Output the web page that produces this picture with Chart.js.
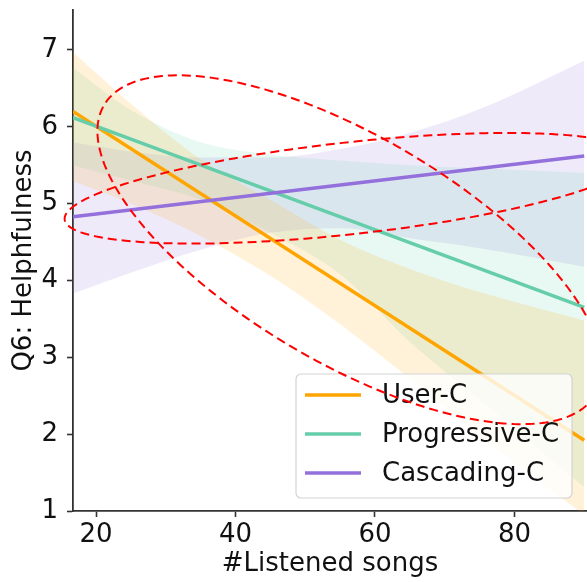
<!DOCTYPE html>
<html>
<head>
<meta charset="utf-8">
<script src="https://cdn.jsdelivr.net/npm/chart.js@4.4.1/dist/chart.umd.min.js"></script>
<style>
  html, body { margin: 0; padding: 0; background: #fff; }
  #wrap { width: 587px; height: 582px; }
</style>
</head>
<body>
<div id="wrap"><canvas id="chart" width="587" height="582"></canvas></div>
<script>
// Values
const xTicks = [20, 40, 60, 80];
const yTicks = [1, 2, 3, 4, 5, 6, 7];
const groups = ['User-C', 'Progressive-C', 'Cascading-C'];

// Regression lines (value at the first and last x)
const lineX = [16.7, 90];
const userLine = [6.20, 1.92];
const progLine = [6.12, 3.65];
const cascLine = [4.83, 5.62];

// Confidence bands, sampled along x
const bandX = [16.7, 25, 35, 45, 55, 65, 75, 90];
const userUpper = [6.97, 6.30, 5.58, 5.05, 4.53, 4.15, 3.85, 3.48];
const userLower = [5.29, 5.00, 4.58, 4.06, 3.43, 2.72, 1.98, 0.95];
const progUpper = [6.77, 6.22, 5.80, 5.64, 5.56, 5.50, 5.46, 5.40];
const progLower = [5.50, 5.30, 5.05, 4.62, 4.08, 3.20, 2.45, 1.31];
const cascUpper = [5.80, 5.68, 5.60, 5.60, 5.71, 5.92, 6.23, 6.86];
const cascLower = [3.83, 4.10, 4.40, 4.62, 4.68, 4.55, 4.42, 4.18];

// Dashed ellipses drawn over the plot: centre, half extents in x / y, correlation
const ellipseCenters = [[56.4, 4.40], [56.4, 5.20]];
const ellipseHalfX = [36.2, 40.9];
const ellipseHalfY = [2.27, 0.72];
const ellipseRho = [-0.68, 0.55];

const colors = ['#FFA500', '#66CDAA', '#9370DB'];
const bandColors = ['rgba(255,165,0,0.15)', 'rgba(102,205,170,0.15)', 'rgba(147,112,219,0.15)'];
const FONT = { family: '"DejaVu Sans", sans-serif', size: 26 };
const TEXT = '#111';
const AXIS = '#333';

const pts = (xs, ys) => xs.map((x, i) => ({ x: x, y: ys[i] }));

const lines = [userLine, progLine, cascLine];
const uppers = [userUpper, progUpper, cascUpper];
const lowers = [userLower, progLower, cascLower];

const datasets = [];
// lines first so they sit on top (later groups drawn above earlier ones)
[2, 1, 0].forEach(g => {
    datasets.push({
        label: groups[g],
        data: pts(lineX, lines[g]),
        borderColor: colors[g],
        borderWidth: 3.5,
        pointRadius: 0,
        fill: false,
        order: 0
    });
});
groups.forEach((name, g) => {
    datasets.push({
        label: name + ' upper',
        data: pts(bandX, uppers[g]),
        borderColor: 'transparent',
        borderWidth: 0,
        pointRadius: 0,
        fill: false,
        cubicInterpolationMode: 'monotone',
        order: 1
    });
    datasets.push({
        label: name + ' lower',
        data: pts(bandX, lowers[g]),
        borderColor: 'transparent',
        backgroundColor: bandColors[g],
        borderWidth: 0,
        pointRadius: 0,
        fill: '-1',
        cubicInterpolationMode: 'monotone',
        order: 1
    });
});

function drawLegend(chart) {
    const ctx = chart.ctx;
    const area = chart.chartArea;
    const w = 276, h = 124;
    const bx = area.right - 15 - w;
    const by = area.bottom - 13 - h;
    ctx.save();
    ctx.beginPath();
    ctx.roundRect(bx, by, w, h, 5);
    ctx.fillStyle = 'rgba(255,255,255,0.8)';
    ctx.fill();
    ctx.strokeStyle = '#d3d3d3';
    ctx.lineWidth = 1.2;
    ctx.stroke();
    ctx.font = FONT.size + 'px ' + FONT.family;
    ctx.textBaseline = 'middle';
    ctx.fillStyle = TEXT;
    groups.forEach((name, g) => {
        const yy = by + 21 + g * 39;
        ctx.beginPath();
        ctx.moveTo(bx + 9, yy);
        ctx.lineTo(bx + 65, yy);
        ctx.strokeStyle = colors[g];
        ctx.lineWidth = 3.5;
        ctx.stroke();
        ctx.fillText(name, bx + 86, yy + 1);
    });
    ctx.restore();
}

function drawEllipse(chart, i) {
    const ctx = chart.ctx;
    const xs = chart.scales.x, ys = chart.scales.y;
    const [cx, cy] = ellipseCenters[i];
    const hx = ellipseHalfX[i], hy = ellipseHalfY[i], r = ellipseRho[i];
    const s = Math.sqrt(1 - r * r);
    ctx.save();
    ctx.beginPath();
    for (let k = 0; k <= 240; k++) {
        const t = (k / 240) * Math.PI * 2;
        const px = xs.getPixelForValue(cx + hx * Math.cos(t));
        const py = ys.getPixelForValue(cy + hy * (r * Math.cos(t) + s * Math.sin(t)));
        if (k === 0) ctx.moveTo(px, py); else ctx.lineTo(px, py);
    }
    ctx.setLineDash([9, 5]);
    ctx.strokeStyle = '#ff0000';
    ctx.lineWidth = 2;
    ctx.stroke();
    ctx.restore();
}

const overlay = {
    id: 'overlay',
    afterDraw(chart) {
        drawLegend(chart);
        ellipseCenters.forEach((c, i) => drawEllipse(chart, i));
    }
};

new Chart(document.getElementById('chart'), {
    type: 'line',
    data: { datasets: datasets },
    plugins: [overlay],
    options: {
        responsive: false,
        animation: false,
        layout: { padding: { top: 10, right: 0, left: 0, bottom: 0 } },
        plugins: { legend: { display: false }, tooltip: { enabled: false } },
        scales: {
            x: {
                type: 'linear',
                min: 16.7,
                max: 90.4,
                afterBuildTicks: s => { s.ticks = xTicks.map(v => ({ value: v })); },
                afterFit: s => { s.height = 71; s.paddingLeft = 0; s.paddingRight = 0; },
                grid: { display: true, drawOnChartArea: false, drawTicks: true, tickLength: 6, tickWidth: 1.6, tickColor: AXIS },
                border: { display: true, color: AXIS, width: 1.8 },
                ticks: { font: FONT, color: TEXT, padding: 3, maxRotation: 0, autoSkip: false },
                title: { display: true, text: '#Listened songs', font: FONT, color: TEXT, padding: { top: 0, bottom: 2 } }
            },
            y: {
                type: 'linear',
                min: 1,
                max: 7.52,
                afterBuildTicks: s => { s.ticks = yTicks.map(v => ({ value: v })); },
                afterFit: s => { s.width = 73; s.paddingTop = 0; s.paddingBottom = 0; },
                grid: { display: true, drawOnChartArea: false, drawTicks: true, tickLength: 6, tickWidth: 1.6, tickColor: AXIS },
                border: { display: true, color: AXIS, width: 1.8 },
                ticks: { font: FONT, color: TEXT, padding: 9, autoSkip: false },
                title: { display: true, text: 'Q6: Helphfulness', font: FONT, color: TEXT, padding: { top: 9, bottom: 0 } }
            }
        }
    }
});
</script>
</body>
</html>
